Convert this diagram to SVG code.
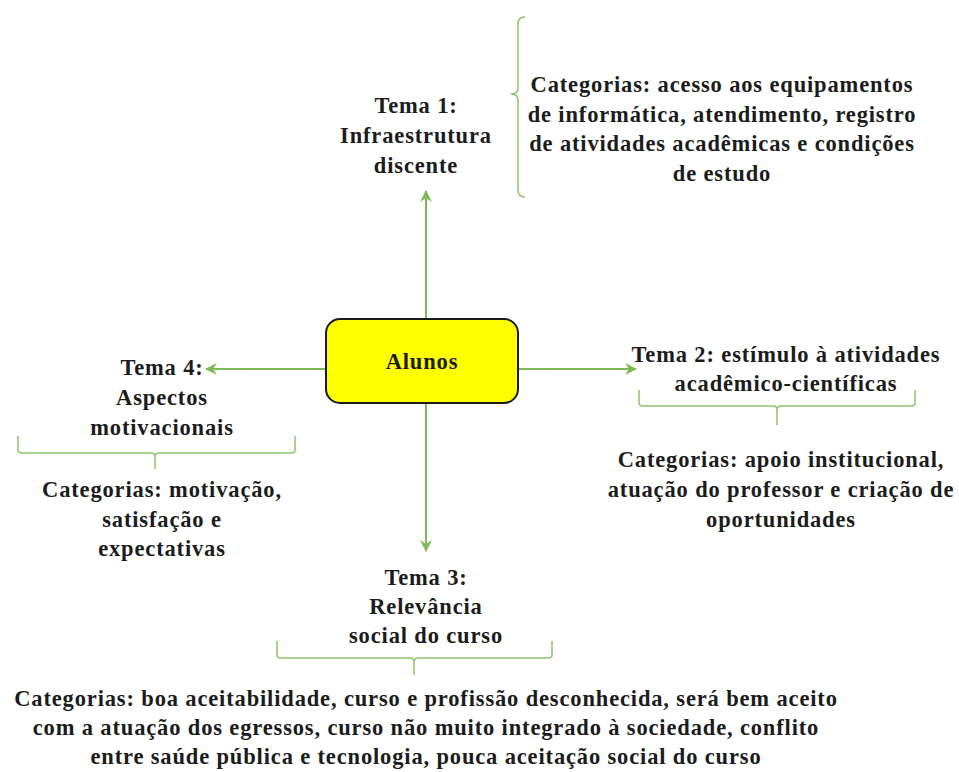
<svg xmlns="http://www.w3.org/2000/svg" width="959" height="772" viewBox="0 0 959 772">
<style>
.t{font-family:"Liberation Serif","DejaVu Serif",serif;font-size:22.5px;font-weight:bold;letter-spacing:0.85px;fill:#1c1c1c;text-anchor:middle}
.c{stroke:#7dba55;stroke-width:2;fill:none}
.b{stroke:#8cc46a;stroke-width:1.5;fill:none}
</style>
<defs>
<marker id="ah" viewBox="0 0 12 12" refX="11" refY="6" markerWidth="12" markerHeight="12" markerUnits="userSpaceOnUse" orient="auto">
<path d="M0,0 L12,6 L0,12 L4,6 Z" fill="#7dba55"/>
</marker>
</defs>
<rect width="959" height="772" fill="#fff"/>
<g id="connectors">
<line class="c" x1="426" y1="319" x2="426" y2="191" marker-end="url(#ah)"/>
<line class="c" x1="326" y1="369" x2="206" y2="369" marker-end="url(#ah)"/>
<line class="c" x1="518" y1="369" x2="636" y2="369" marker-end="url(#ah)"/>
<line class="c" x1="426" y1="403" x2="426" y2="551" marker-end="url(#ah)"/>
</g>
<g id="alunos">
<rect x="326" y="319" width="192" height="84" rx="14" fill="#ffff00" stroke="#1a1a1a" stroke-width="2"/>
<text class="t" x="422" y="369">Alunos</text>
</g>
<g id="tema1">
<text class="t" x="416" y="113">Tema 1:</text>
<text class="t" x="416" y="143">Infraestrutura</text>
<text class="t" x="416" y="173">discente</text>
</g>
<g id="brace1">
<path class="b" d="M525,17 Q518,17 518,24 L518,88 Q518,94 511,94 Q518,94 518,100 L518,190 Q518,197 525,197"/>
</g>
<g id="cat1">
<text class="t" x="722" y="92">Categorias: acesso aos equipamentos</text>
<text class="t" x="722" y="122">de informática, atendimento, registro</text>
<text class="t" x="722" y="151">de atividades acadêmicas e condições</text>
<text class="t" x="722" y="181">de estudo</text>
</g>
<g id="tema2">
<text class="t" x="786" y="362">Tema 2: estímulo à atividades</text>
<text class="t" x="786" y="391">acadêmico-científicas</text>
</g>
<g id="brace2">
<path class="b" d="M639,390 L639,403 Q639,406 643,406 L773,406 Q777,406 777,410 L777,425 M777,410 Q777,406 781,406 L911,406 Q915,406 915,403 L915,390"/>
</g>
<g id="cat2">
<text class="t" x="781" y="467">Categorias: apoio institucional,</text>
<text class="t" x="781" y="497">atuação do professor e criação de</text>
<text class="t" x="781" y="527">oportunidades</text>
</g>
<g id="tema4">
<text class="t" x="162" y="375">Tema 4:</text>
<text class="t" x="162" y="405">Aspectos</text>
<text class="t" x="162" y="435">motivacionais</text>
</g>
<g id="brace4">
<path class="b" d="M18,436 L18,450 Q18,453 22,453 L151,453 Q155,453 155,457 L155,469 M155,457 Q155,453 159,453 L291,453 Q295,453 295,450 L295,436"/>
</g>
<g id="cat4">
<text class="t" x="162" y="497">Categorias: motivação,</text>
<text class="t" x="162" y="527">satisfação e</text>
<text class="t" x="162" y="556">expectativas</text>
</g>
<g id="tema3">
<text class="t" x="426" y="585">Tema 3:</text>
<text class="t" x="426" y="614">Relevância</text>
<text class="t" x="426" y="643">social do curso</text>
</g>
<g id="brace3">
<path class="b" d="M277,641 L277,655 Q277,658 281,658 L410,658 Q414,658 414,662 L414,675 M414,662 Q414,658 418,658 L548,658 Q552,658 552,655 L552,641"/>
</g>
<g id="cat3">
<text class="t" x="426" y="706">Categorias: boa aceitabilidade, curso e profissão desconhecida, será bem aceito</text>
<text class="t" x="426" y="735">com a atuação dos egressos, curso não muito integrado à sociedade, conflito</text>
<text class="t" x="426" y="764">entre saúde pública e tecnologia, pouca aceitação social do curso</text>
</g>
</svg>
